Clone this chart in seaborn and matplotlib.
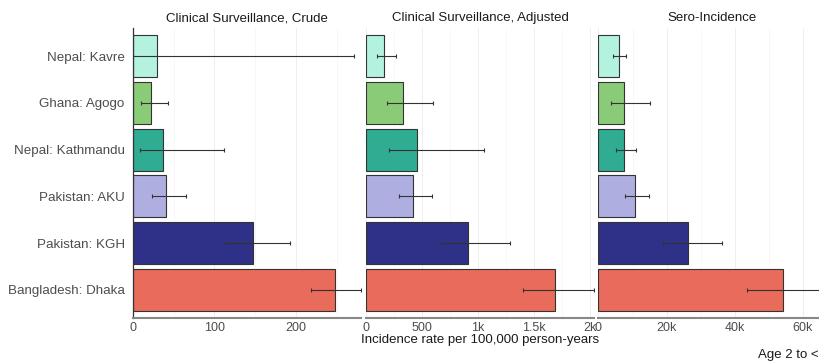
import numpy as np
import pandas as pd
import seaborn as sns
import matplotlib.pyplot as plt
from matplotlib.ticker import AutoMinorLocator

# Dados
sites = ["Nepal: Kavre", "Ghana: Agogo", "Nepal: Kathmandu",
         "Pakistan: AKU", "Pakistan: KGH", "Bangladesh: Dhaka"]
cores = ["#b3f2de", "#8acb78", "#2fac91", "#aeaee0", "#2e3187", "#e96b5b"]

paineis = ["Clinical Surveillance, Crude", "Clinical Surveillance, Adjusted", "Sero-Incidence"]

crude = [29, 21.5, 37, 40, 147, 248]
crude_low = [0, 9.5, 8, 23, 113, 218]
crude_high = [272, 43, 112, 65, 193, 280]

ajustado = [164, 333, 458, 417, 914, 1688]
ajustado_low = [101, 190, 208, 298, 670, 1405]
ajustado_high = [268, 601, 1054, 592, 1286, 2040]

sero = [6000, 7500, 7400, 10800, 26300, 54200]
sero_low = [4400, 3800, 5000, 7800, 18900, 43700]
sero_high = [8100, 15000, 10900, 14800, 36400, 67000]

ticks_crude = [0, 100, 200]
labels_crude = ["0", "100", "200"]
ticks_ajust = [0, 500, 1000, 1500, 2000]
labels_ajust = ["0", "500", "1k", "1.5k", "2k"]
ticks_sero = [0, 20000, 40000, 60000]
labels_sero = ["0", "20k", "40k", "60k"]

limites = [280, 2040, 67000]

sns.set_theme(style="white")
plt.rcParams['font.family'] = ['Liberation Sans', 'DejaVu Sans']

fig = plt.figure(figsize=(8.2, 3.62), dpi=100)
esquerdas = [133 / 820, 366 / 820, 598.5 / 820]
largura = 228 / 820
base = 1 - 318 / 362
altura = (318 - 28) / 362

series = [(crude, crude_low, crude_high, ticks_crude, labels_crude),
          (ajustado, ajustado_low, ajustado_high, ticks_ajust, labels_ajust),
          (sero, sero_low, sero_high, ticks_sero, labels_sero)]
paleta = dict(zip(sites, cores))

for i, (vals, lo, hi, tk, tl) in enumerate(series):
    ax = fig.add_axes([esquerdas[i], base, largura, altura])
    df = pd.DataFrame({"site": sites, "valor": vals, "low": lo, "high": hi})

    # Grade estilo theme_minimal
    ax.set_axisbelow(True)
    ax.xaxis.set_minor_locator(AutoMinorLocator(2))
    ax.grid(True, which="major", color="#ebebeb", linewidth=0.6)
    ax.grid(True, which="minor", axis="x", color="#f2f2f2", linewidth=0.4)

    sns.barplot(data=df, y="site", x="valor", hue="site", palette=paleta,
                order=sites, legend=False, width=0.9, edgecolor="#333333",
                linewidth=0.8, ax=ax, saturation=1)

    # Barras de erro (IC)
    pos = np.arange(len(sites))
    err = [df["valor"] - df["low"], df["high"] - df["valor"]]
    ax.errorbar(df["valor"], pos, xerr=err, fmt="none", ecolor="#333333",
                elinewidth=0.8, capsize=1.5, capthick=0.8)

    ax.set_xlim(0, limites[i])
    ax.set_ylim(len(sites) - 0.4, -0.6)
    ax.set_xticks(tk)
    ax.set_xticklabels(tl)
    ax.tick_params(axis="both", length=0, labelsize=9, colors="#4d4d4d", pad=3)
    ax.set_xlabel("")
    ax.set_ylabel("")
    ax.set_title(paineis[i], fontsize=9.5, color="#1a1a1a", pad=5)

    for s in ["top", "right"]:
        ax.spines[s].set_visible(False)
    ax.spines["bottom"].set_color("#888888")
    ax.spines["bottom"].set_linewidth(1.5)
    if i == 0:
        ax.spines["left"].set_color("#333333")
        ax.spines["left"].set_linewidth(0.9)
        ax.tick_params(axis="y", labelsize=9.6, pad=6)
    else:
        ax.spines["left"].set_visible(False)
        ax.set_yticklabels([])

fig.text(480 / 820, 1 - 340 / 362, "Incidence rate per 100,000 person-years",
         ha="center", va="center", fontsize=9.5, color="#1a1a1a")
fig.text(758 / 820, 1 - 355 / 362, "Age 2 to <", ha="left", va="center",
         fontsize=9.5, color="#1a1a1a")

plt.savefig("out.png", dpi=100)
